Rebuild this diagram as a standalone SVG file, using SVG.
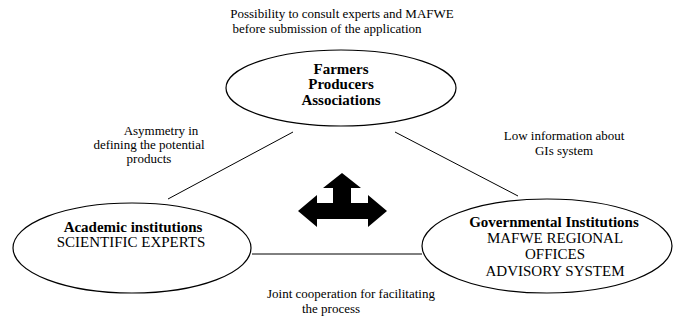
<svg xmlns="http://www.w3.org/2000/svg" width="675" height="320" viewBox="0 0 675 320" font-family="'Liberation Serif', 'DejaVu Serif', 'Times New Roman', serif">
<style>
.node ellipse{fill:#fff;stroke:#000;stroke-width:1.2}
text{fill:#000;text-anchor:middle}
.lbl{font-size:13px}
.nt{font-size:15px}
.b{font-weight:bold}
.conn line{stroke:#000;stroke-width:1}
</style>
<rect width="675" height="320" fill="#fff"/>
<g id="connectors" class="conn">
<line x1="168" y1="199" x2="293" y2="132"/>
<line x1="395" y1="132" x2="518" y2="196"/>
<line x1="252" y1="254" x2="422" y2="254"/>
</g>
<g id="labels">
<text class="lbl" x="342" y="18">Possibility to consult experts and MAFWE</text>
<text class="lbl" x="327" y="33">before submission of the application</text>
<text class="lbl" x="161" y="135">Asymmetry in</text>
<text class="lbl" x="149" y="149">defining the potential</text>
<text class="lbl" x="149" y="163">products</text>
<text class="lbl" x="564" y="140">Low information about</text>
<text class="lbl" x="564" y="155">GIs system</text>
<text class="lbl" x="351" y="298">Joint cooperation for facilitating</text>
<text class="lbl" x="331" y="313">the process</text>
</g>
<g id="farmers" class="node">
<ellipse cx="341" cy="88" rx="115" ry="38"/>
<text class="nt b" x="341" y="74">Farmers</text>
<text class="nt b" x="341" y="89">Producers</text>
<text class="nt b" x="341" y="105">Associations</text>
</g>
<g id="academic" class="node">
<ellipse cx="132" cy="248" rx="119" ry="45"/>
<text class="nt b" x="133" y="232">Academic institutions</text>
<text class="nt" x="131" y="247">SCIENTIFIC EXPERTS</text>
</g>
<g id="governmental" class="node">
<ellipse cx="547" cy="246" rx="125" ry="47"/>
<text class="nt b" x="554" y="227">Governmental Institutions</text>
<text class="nt" x="555" y="243">MAFWE REGIONAL</text>
<text class="nt" x="555" y="259">OFFICES</text>
<text class="nt" x="555" y="276">ADVISORY SYSTEM</text>
</g>
<g id="arrow">
<polygon fill="#000" points="298,211 317,195 317,203 333,203 333,188 323,188 342,173 361,188 351,188 351,203 368,203 368,195 387,211 368,227 368,219 317,219 317,227"/>
</g>
</svg>
